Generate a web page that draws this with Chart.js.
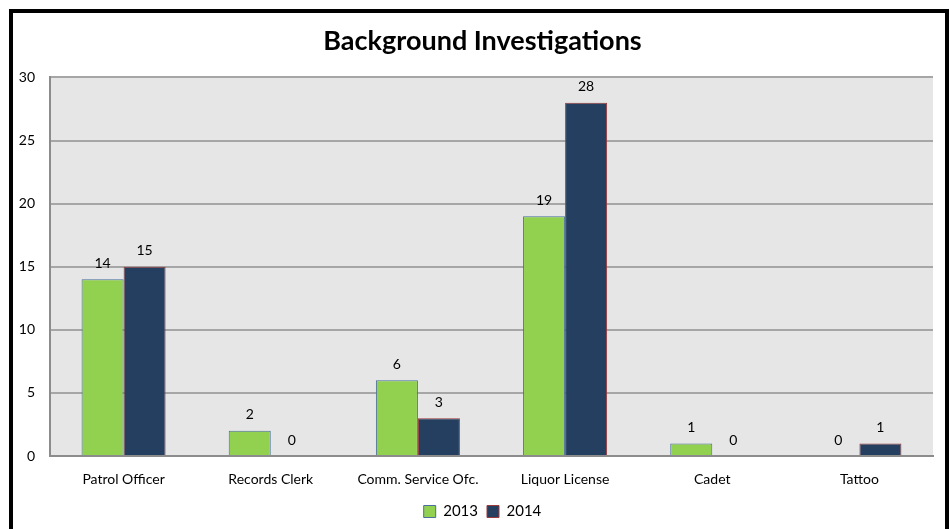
<!DOCTYPE html>
<html>
<head>
<meta charset="utf-8">
<script src="https://cdn.jsdelivr.net/npm/chart.js@4"></script>
<style>
  html, body { margin: 0; padding: 0; background: #fff; }
  #wrap { width: 949px; height: 529px; }
</style>
</head>
<body>
<div id="wrap"><canvas id="grafico" width="949" height="529"></canvas></div>
<script>
var categorias = ['Patrol Officer', 'Records Clerk', 'Comm. Service Ofc.', 'Liquor License', 'Cadet', 'Tattoo']
var valores2013 = [14, 2, 6, 19, 1, 0]
var valores2014 = [15, 0, 3, 28, 0, 1]
var rotulos = ['2013', '2014']

var fonte = "Lato, 'Open Sans', sans-serif"

// moldura preta e fundo cinza da area do grafico
var fundo = {
    id: 'fundo',
    beforeDraw: function (chart) {
        var ctx = chart.ctx
        var a = chart.chartArea
        ctx.save()
        ctx.fillStyle = '#e6e6e6'
        ctx.fillRect(a.left, a.top, a.right - a.left, a.bottom - a.top)
        ctx.restore()
    },
    afterDraw: function (chart) {
        var ctx = chart.ctx
        ctx.save()
        ctx.strokeStyle = '#000'
        ctx.lineWidth = 4
        ctx.strokeRect(11, 11, 936, 540)
        ctx.restore()
    }
}

// valores em cima das barras
var valoresNasBarras = {
    id: 'valoresNasBarras',
    afterDatasetsDraw: function (chart) {
        var ctx = chart.ctx
        ctx.save()
        ctx.font = '14px ' + fonte
        ctx.fillStyle = '#000'
        ctx.textAlign = 'center'
        ctx.textBaseline = 'middle'
        chart.data.datasets.forEach(function (ds, i) {
            chart.getDatasetMeta(i).data.forEach(function (bar, j) {
                ctx.fillText(ds.data[j], bar.x, bar.y - 16)
            })
        })
        ctx.restore()
    }
}

var ctx = document.getElementById('grafico').getContext('2d');
var meuGrafico = new Chart(ctx, {
    type: 'bar',
    data: {
        labels: categorias,
        datasets: [{
            label: rotulos[0],
            data: valores2013,
            backgroundColor: '#92d050',
            borderColor: '#4a6f9c',
            borderWidth: 1
        }, {
            label: rotulos[1],
            data: valores2014,
            backgroundColor: '#243f60',
            borderColor: '#9b3a3a',
            borderWidth: 1
        }]
    },
    options: {
        responsive: false,
        animation: false,
        layout: { padding: { left: 16, right: 0, top: 0, bottom: 0 } },
        datasets: {
            bar: { categoryPercentage: 0.571, barPercentage: 1 }
        },
        scales: {
            x: {
                grid: { display: false },
                border: { display: true, color: '#8c8c8c', width: 2 },
                ticks: { color: '#000', font: { family: fonte, size: 14 }, padding: 7, maxRotation: 0 },
                afterFit: function (s) { s.height = 39 }
            },
            y: {
                min: 0,
                max: 30,
                ticks: { stepSize: 5, color: '#000', font: { family: fonte, size: 14 }, padding: 15 },
                grid: { color: '#a6a6a6', lineWidth: 2, drawTicks: false },
                border: { display: true, color: '#8c8c8c', width: 2 },
                afterFit: function (s) { s.width = 34 }
            },
            // eixo vazio so para a margem da direita
            margem: {
                position: 'right',
                min: 0,
                max: 30,
                grid: { display: false },
                border: { display: false },
                ticks: { display: false },
                afterFit: function (s) { s.width = 16 }
            }
        },
        plugins: {
            title: {
                display: true,
                text: 'Background Investigations',
                color: '#000',
                font: { family: fonte, size: 27, weight: 'bold' },
                padding: { top: 25, bottom: 20 }
            },
            legend: {
                position: 'bottom',
                labels: {
                    color: '#000',
                    font: { family: fonte, size: 15 },
                    boxWidth: 12,
                    boxHeight: 12,
                    padding: 9
                }
            },
            tooltip: { enabled: false }
        }
    },
    plugins: [fundo, valoresNasBarras]
});
</script>
</body>
</html>
